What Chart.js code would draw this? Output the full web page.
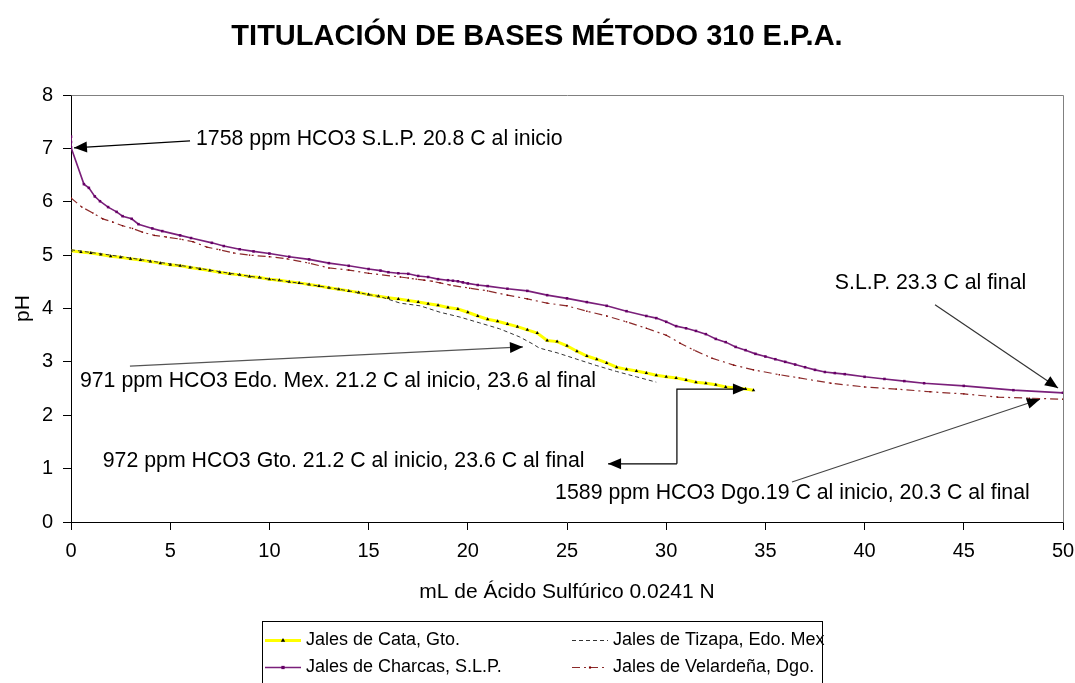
<!DOCTYPE html>
<html><head><meta charset="utf-8">
<script src="https://cdn.jsdelivr.net/npm/chart.js@4/dist/chart.umd.min.js"></script>
<style>html,body{margin:0;padding:0;background:#fff}#wrap{width:1075px;height:683px;position:relative}</style>
</head><body><div id="wrap"><canvas id="c"></canvas></div>
<script>
const FONT = '"Liberation Sans", Arial, Helvetica, sans-serif';
const titleText = 'TITULACIÓN DE BASES MÉTODO 310 E.P.A.';
const xTitle = 'mL de Ácido Sulfúrico 0.0241 N';
const yTitle = 'pH';
const seriesNames = ['Jales de Cata, Gto.', 'Jales de Tizapa, Edo. Mex', 'Jales de Charcas, S.L.P.', 'Jales de Velardeña, Dgo.'];
const xRange = [0, 50, 5];
const yRange = [0, 8, 1];

// [mL, pH]
const cataGto = [[0,5.08],[0.5,5.06],[1,5.04],[1.5,5.01],[2,4.98],[2.5,4.96],[3,4.93],[3.5,4.91],[4,4.88],[4.5,4.85],[5,4.82],[5.5,4.8],[6,4.77],[6.5,4.74],[7,4.71],[7.5,4.68],[8,4.65],[8.5,4.63],[9,4.6],[9.5,4.58],[10,4.55],[10.5,4.53],[11,4.5],[11.5,4.48],[12,4.45],[12.5,4.42],[13,4.39],[13.5,4.36],[14,4.33],[14.5,4.3],[15,4.26],[15.5,4.23],[16,4.2],[16.5,4.18],[17,4.15],[17.5,4.12],[18,4.09],[18.5,4.06],[19,4.02],[19.5,3.99],[20,3.93],[20.5,3.86],[21,3.8],[21.5,3.76],[22,3.71],[22.5,3.66],[23,3.6],[23.5,3.54],[24,3.4],[24.5,3.38],[25,3.3],[25.5,3.2],[26,3.11],[26.5,3.05],[27,2.98],[27.5,2.9],[28,2.86],[28.5,2.83],[29,2.79],[29.5,2.75],[30,2.72],[30.5,2.7],[31,2.66],[31.5,2.62],[32,2.6],[32.5,2.57],[33,2.53],[33.5,2.51],[34,2.49],[34.4,2.47]];
const tizapaMex = [[0,5.1],[2,5.0],[4,4.89],[6,4.78],[8,4.66],[10,4.55],[12,4.45],[14,4.33],[15.6,4.22],[16.6,4.1],[17.6,4.05],[18.6,3.93],[19.6,3.84],[20.6,3.73],[21.6,3.62],[22.6,3.47],[23.3,3.33],[23.6,3.26],[24.5,3.17],[25.5,3.05],[26.5,2.93],[27.5,2.82],[28.5,2.72],[29.5,2.62]];
const charcasSLP = [[0,7.22],[0,7.12],[0,7.02],[0.65,6.33],[0.9,6.26],[1.2,6.1],[1.46,6.01],[1.87,5.9],[2.3,5.81],[2.6,5.73],[3.06,5.68],[3.4,5.58],[4.1,5.5],[4.6,5.45],[5.5,5.37],[6.05,5.32],[7.1,5.23],[7.7,5.17],[8.5,5.11],[9.2,5.07],[10,5.03],[11,4.97],[12,4.92],[13,4.85],[14,4.8],[15,4.74],[15.6,4.71],[16,4.68],[16.5,4.66],[17,4.65],[17.5,4.61],[18,4.59],[18.5,4.55],[19,4.53],[19.25,4.52],[19.5,4.51],[19.75,4.49],[20,4.47],[20.5,4.44],[21,4.42],[22,4.37],[23,4.33],[24,4.25],[25,4.19],[26,4.12],[27,4.05],[28,3.95],[29,3.86],[29.5,3.82],[30,3.75],[30.5,3.67],[31,3.63],[31.5,3.58],[32,3.52],[32.5,3.43],[33,3.37],[33.5,3.28],[34,3.22],[34.5,3.15],[35,3.1],[35.5,3.05],[36,3.0],[36.5,2.95],[37,2.9],[37.5,2.85],[38,2.81],[38.5,2.79],[39,2.77],[40,2.72],[41,2.68],[42,2.64],[43,2.6],[45,2.55],[47.5,2.47],[50,2.42]];
const velardenaDgo = [[0,6.07],[0.55,5.9],[1.1,5.79],[1.6,5.68],[2.1,5.62],[2.6,5.55],[3.1,5.5],[3.6,5.43],[4.2,5.37],[4.8,5.34],[5.5,5.3],[6.15,5.25],[6.85,5.15],[7.5,5.1],[8.2,5.04],[9,5.0],[10,4.97],[10.9,4.93],[12,4.85],[13,4.76],[14,4.72],[15,4.66],[16.6,4.59],[17,4.57],[17.4,4.55],[17.8,4.53],[18.2,4.51],[18.6,4.48],[19.1,4.44],[20.1,4.38],[21,4.33],[22,4.25],[23,4.18],[24,4.1],[25,4.05],[26,3.95],[27,3.86],[28,3.75],[29,3.63],[30,3.5],[30.7,3.35],[31.4,3.22],[32.3,3.07],[33.4,2.94],[34.4,2.85],[35.7,2.76],[36.7,2.7],[38.3,2.6],[40,2.53],[41.6,2.49],[43.3,2.44],[45,2.4],[46.7,2.34],[48.3,2.32],[50,2.3]];

// annotation texts and anchors (data units)
const notes = [
  {text:'1758 ppm HCO3 S.L.P. 20.8 C al inicio', at:[6.3,7.18], path:[[6.0,7.14],[0.15,7.01]], color:'#000'},
  {text:'S.L.P. 23.3 C al final', at:[38.5,4.48], path:[[43.55,4.07],[49.75,2.51]], color:'#333'},
  {text:'971 ppm HCO3 Edo. Mex. 21.2 C al inicio, 23.6 al final', at:[0.45,2.64], path:[[2.97,2.92],[22.78,3.28]], color:'#555'},
  {text:'972 ppm HCO3 Gto. 21.2 C al inicio, 23.6 C al final', at:[1.6,1.14], path:[[30.54,1.09],[27.07,1.09]], path2:[[30.54,1.09],[30.54,2.49],[34.02,2.49]], color:'#000'},
  {text:'1589 ppm HCO3 Dgo.19 C al inicio, 20.3 C al final', at:[24.4,0.54], path:[[36.34,0.75],[48.84,2.30]], color:'#444'}
];

const toXY = a => a.map(p => ({x:p[0], y:p[1]}));

function arrowLine(ctx, pts, color){
  ctx.save();
  ctx.strokeStyle = color; ctx.fillStyle = '#000'; ctx.lineWidth = 1.2;
  ctx.beginPath(); ctx.moveTo(pts[0][0], pts[0][1]);
  for (let i=1;i<pts.length;i++) ctx.lineTo(pts[i][0], pts[i][1]);
  ctx.stroke();
  const [x1,y1] = pts[pts.length-2], [x2,y2] = pts[pts.length-1];
  const ang = Math.atan2(y2-y1, x2-x1), L = 13, W = 5.5;
  ctx.beginPath();
  ctx.moveTo(x2,y2);
  ctx.lineTo(x2 - L*Math.cos(ang) + W*Math.sin(ang), y2 - L*Math.sin(ang) - W*Math.cos(ang));
  ctx.lineTo(x2 - L*Math.cos(ang) - W*Math.sin(ang), y2 - L*Math.sin(ang) + W*Math.cos(ang));
  ctx.closePath(); ctx.fill();
  ctx.restore();
}

const decor = {
  id:'decor',
  afterDraw(chart){
    const ctx = chart.ctx, xs = chart.scales.x, ys = chart.scales.y, ca = chart.chartArea;
    const P = p => [xs.getPixelForValue(p[0]), ys.getPixelForValue(p[1])];
    ctx.save();
    ctx.strokeStyle = '#808080'; ctx.lineWidth = 1;
    ctx.beginPath(); ctx.moveTo(Math.round(ca.left)+0.5, Math.round(ca.top)+0.5); ctx.lineTo(Math.round(ca.right)+0.5, Math.round(ca.top)+0.5); ctx.lineTo(Math.round(ca.right)+0.5, Math.round(ca.bottom)+0.5); ctx.stroke();
    ctx.fillStyle = '#000'; ctx.textAlign = 'center'; ctx.textBaseline = 'middle';
    ctx.font = 'bold 29px ' + FONT;
    ctx.fillText(titleText, 537, 37);
    ctx.font = '21px ' + FONT;
    ctx.fillText(xTitle, (ca.left+ca.right)/2, 592);
    ctx.save(); ctx.translate(23, (ca.top+ca.bottom)/2); ctx.rotate(-Math.PI/2); ctx.fillText(yTitle, 0, 0); ctx.restore();
    ctx.font = '21.3px ' + FONT; ctx.textAlign = 'left';
    notes.forEach(n => {
      const t = P(n.at); ctx.fillStyle = '#000'; ctx.fillText(n.text, t[0], t[1]);
      arrowLine(ctx, n.path.map(P), n.color);
      if (n.path2) arrowLine(ctx, n.path2.map(P), n.color);
    });
    ctx.strokeStyle = '#000'; ctx.lineWidth = 1;
    ctx.strokeRect(262.5, 621.5, 560, 80);
    ctx.font = '18px ' + FONT;
    const ds = chart.data.datasets;
    const cells = [[0,265,640],[1,572,640],[2,265,667],[3,572,667]];
    cells.forEach(([i,x,y]) => {
      const d = ds[i];
      ctx.save();
      ctx.strokeStyle = d.borderColor; ctx.lineWidth = d.borderWidth; ctx.setLineDash(d.borderDash || []);
      ctx.beginPath(); ctx.moveTo(x, y+0.5); ctx.lineTo(x+36, y+0.5); ctx.stroke();
      ctx.restore();
      if (d.pointRadius > 0) {
        ctx.save(); ctx.fillStyle = d.pointBackgroundColor;
        Chart.helpers.drawPoint(ctx, {pointStyle:d.pointStyle, radius:d.pointRadius+0.5, borderWidth:0}, x+18, y+0.5);
        ctx.restore();
      }
      ctx.fillStyle = '#000'; ctx.textAlign = 'left'; ctx.textBaseline = 'middle';
      ctx.fillText(d.label, x+41, y);
    });
    ctx.restore();
  }
};

new Chart(document.getElementById('c'), {
  type:'line',
  data:{datasets:[
    {label:seriesNames[0], data:toXY(cataGto), borderColor:'#FFFF00', borderWidth:3, pointStyle:'triangle', pointRadius:2, pointBackgroundColor:'#000', pointBorderWidth:0, order:2},
    {label:seriesNames[1], data:toXY(tizapaMex), borderColor:'#333333', borderWidth:1, borderDash:[4,3], pointRadius:0, order:1},
    {label:seriesNames[2], data:toXY(charcasSLP), borderColor:'#7A1F7A', borderWidth:1.6, pointStyle:'rect', pointRadius:1.8, pointBackgroundColor:'#660066', pointBorderWidth:0, order:0},
    {label:seriesNames[3], data:toXY(velardenaDgo), borderColor:'#8B2A2A', borderWidth:1.2, borderDash:[8,4,2,4], pointStyle:'rect', pointRadius:1, pointBackgroundColor:'#800000', pointBorderWidth:0, order:1}
  ]},
  options:{
    responsive:true, maintainAspectRatio:false, animation:false,
    layout:{padding:{top:95, right:12, left:0, bottom:0}},
    plugins:{legend:{display:false}, title:{display:false}, tooltip:{enabled:false}},
    elements:{line:{tension:0}},
    scales:{
      x:{type:'linear', min:xRange[0], max:xRange[1],
        ticks:{stepSize:xRange[2], color:'#000', font:{family:FONT, size:20}, padding:9, maxRotation:0},
        grid:{drawOnChartArea:false, drawTicks:true, tickLength:8, color:'#000'},
        border:{color:'#000'},
        afterFit(s){ s.height = 161; s.paddingRight = 0; s.paddingLeft = 0; }
      },
      y:{type:'linear', min:yRange[0], max:yRange[1],
        ticks:{stepSize:yRange[2], color:'#000', font:{family:FONT, size:20}, padding:10},
        grid:{drawOnChartArea:false, drawTicks:true, tickLength:8, color:'#000'},
        border:{color:'#000'},
        afterFit(s){ s.width = 71; s.paddingTop = 0; s.paddingBottom = 0; }
      }
    }
  },
  plugins:[decor]
});
</script></body></html>
